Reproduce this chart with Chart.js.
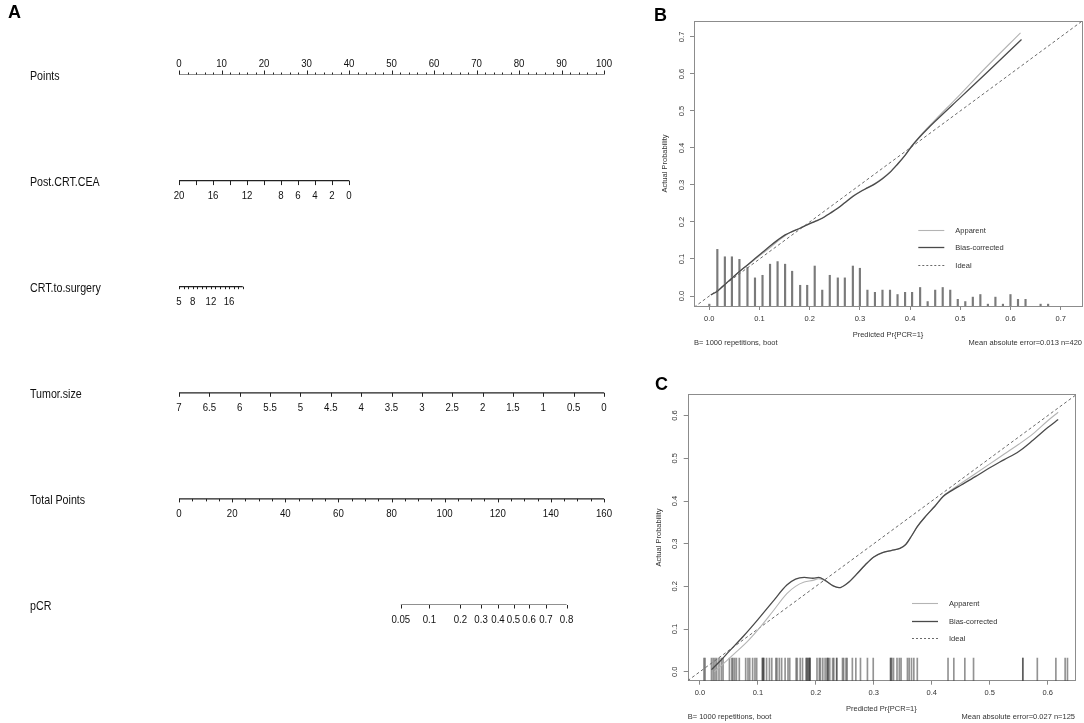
<!DOCTYPE html>
<html>
<head>
<meta charset="utf-8">
<script src="https://cdn.jsdelivr.net/npm/chart.js@4.4.1/dist/chart.umd.min.js"></script>
<style>
  html, body { margin: 0; padding: 0; background: #fff; }
  #wrap { position: relative; width: 1084px; height: 723px; overflow: hidden; }
  .box { position: absolute; }
  .tag { position: absolute; font: bold 18px "Liberation Sans", Arial, sans-serif; color: #000; }
</style>
</head>
<body>
<div id="wrap">
  <div class="box" style="left:0;top:0;width:650px;height:723px"><canvas id="nomo"></canvas></div>
  <div class="box" style="left:650px;top:0;width:434px;height:360px"><canvas id="calB"></canvas></div>
  <div class="box" style="left:650px;top:360px;width:434px;height:363px"><canvas id="calC"></canvas></div>
  <div class="tag" style="left:8px;top:2px">A</div>
  <div class="tag" style="left:654px;top:5px">B</div>
  <div class="tag" style="left:655px;top:374px">C</div>
</div>
<script>
// ---- nomogram (panel A) ----
const rowNames = ['Points', 'Post.CRT.CEA', 'CRT.to.surgery', 'Tumor.size', 'Total Points', 'pCR'];

const pointsMajor = [0, 10, 20, 30, 40, 50, 60, 70, 80, 90, 100];
const ceaTicks    = [20, 18, 16, 14, 12, 10, 8, 6, 4, 2, 0];
const ceaLabels   = [20, 16, 12, 8, 6, 4, 2, 0];
const crtTicks    = [5, 6, 7, 8, 9, 10, 11, 12, 13, 14, 15, 16, 17, 18, 19];
const crtLabels   = [5, 8, 12, 16];
const sizeTicks   = [7, 6.5, 6, 5.5, 5, 4.5, 4, 3.5, 3, 2.5, 2, 1.5, 1, 0.5, 0];
const totalMajor  = [0, 20, 40, 60, 80, 100, 120, 140, 160];
const pcrTicks    = [0.05, 0.1, 0.2, 0.3, 0.4, 0.5, 0.6, 0.7, 0.8];

// model scale (points per unit)
const ceaToPts   = v => (20 - v) * 2;
const crtToPts   = v => (v - 5) * 15 / 14;
const sizeToPts  = v => (7 - v) * 100 / 7;
const totalToPts = v => v * 100 / 160;
const LP_A = -8.74, LP_B = 0.0694;
const pcrToPts = p => totalToPts((Math.log(p / (1 - p)) - LP_A) / LP_B);

const stepList = (a, b, s) => { const r = []; for (let v = a; v <= b + 1e-9; v += s) r.push(+v.toFixed(4)); return r; };

const nomoRows = [
  { ticks: stepList(0, 100, 2),  labels: pointsMajor, major: pointsMajor, map: v => v,  up: true,  len: 4, minor: 2 },
  { ticks: ceaTicks,             labels: ceaLabels,   major: ceaTicks,    map: ceaToPts, up: false, len: 4.5, minor: 4.5 },
  { ticks: crtTicks,             labels: crtLabels,   major: crtTicks,    map: crtToPts, up: false, len: 2.5, minor: 2.5 },
  { ticks: sizeTicks,            labels: sizeTicks,   major: sizeTicks,   map: sizeToPts, up: false, len: 4, minor: 4 },
  { ticks: stepList(0, 160, 5),  labels: totalMajor,  major: totalMajor,  map: totalToPts, up: false, len: 3.5, minor: 2.5 },
  { ticks: pcrTicks,             labels: pcrTicks,    major: pcrTicks,    map: pcrToPts, up: false, len: 3.5, minor: 3.5 }
];

const FONT = '"Liberation Sans", Arial, Helvetica, sans-serif';
Chart.defaults.font.family = FONT;
Chart.defaults.color = '#222';
Chart.defaults.animation = false;

function squeezeText(c, txt, x, y, align, size, sx) {
  c.save();
  c.translate(x, y);
  c.scale(sx, 1);
  c.font = size + 'px ' + FONT;
  c.textAlign = align;
  c.textBaseline = 'middle';
  c.fillText(txt, 0, 0);
  c.restore();
}

const nomoAxes = {
  id: 'nomoAxes',
  afterDatasetsDraw(ch) {
    const c = ch.ctx, xs = ch.scales.x, ys = ch.scales.y;
    c.save();
    c.strokeStyle = '#222';
    c.fillStyle = '#111';
    c.lineWidth = 1;
    nomoRows.forEach((r, i) => {
      const py = ys.getPixelForValue(i);
      const dir = r.up ? -1 : 1;
      r.ticks.forEach(v => {
        const px = Math.round(xs.getPixelForValue(r.map(v))) + 0.5;
        const len = r.major.includes(v) ? r.len : r.minor;
        c.beginPath(); c.moveTo(px, py); c.lineTo(px, py + dir * len); c.stroke();
      });
      r.labels.forEach(v => {
        const px = xs.getPixelForValue(r.map(v));
        squeezeText(c, String(v), px, r.up ? py - 11 : py + 15, 'center', 11.5, 0.84);
      });
      squeezeText(c, rowNames[i], 30, py + 1.5, 'left', 13, 0.82);
    });
    c.restore();
  }
};

new Chart(document.getElementById('nomo'), {
  type: 'scatter',
  data: {
    datasets: nomoRows.map((r, i) => ({
      data: [{ x: r.map(r.ticks[0]), y: i }, { x: r.map(r.ticks[r.ticks.length - 1]), y: i }],
      showLine: true, borderColor: '#222', borderWidth: 1.2, pointRadius: 0
    }))
  },
  options: {
    responsive: true, maintainAspectRatio: false,
    layout: { padding: { left: 179, right: 46, top: 74.5, bottom: 118 } },
    plugins: { legend: { display: false }, tooltip: { enabled: false } },
    scales: {
      x: { type: 'linear', min: 0, max: 100, display: false },
      y: { type: 'linear', min: 0, max: 5, reverse: true, display: false }
    }
  },
  plugins: [nomoAxes]
});

// ---- calibration curves (panels B, C) ----
const calTicksB = [0, 0.1, 0.2, 0.3, 0.4, 0.5, 0.6, 0.7];
const calTicksC = [0, 0.1, 0.2, 0.3, 0.4, 0.5, 0.6];

const biasB = [
  [0.003, 0.003], [0.016, 0.013], [0.031, 0.031], [0.045, 0.048], [0.060, 0.066], [0.076, 0.084],
  [0.091, 0.101], [0.106, 0.118], [0.121, 0.135], [0.136, 0.151], [0.151, 0.165], [0.165, 0.174],
  [0.181, 0.183], [0.195, 0.192], [0.210, 0.201], [0.225, 0.210], [0.240, 0.223], [0.256, 0.237],
  [0.270, 0.252], [0.286, 0.269], [0.300, 0.281], [0.315, 0.292], [0.330, 0.303], [0.345, 0.317],
  [0.360, 0.334], [0.375, 0.356], [0.390, 0.380], [0.404, 0.406], [0.420, 0.431], [0.435, 0.452],
  [0.450, 0.472], [0.500, 0.536], [0.550, 0.600], [0.622, 0.693]
];
const apparentB = [
  [0.003, 0.004], [0.016, 0.014], [0.031, 0.032], [0.045, 0.049], [0.060, 0.066], [0.076, 0.083],
  [0.091, 0.099], [0.106, 0.115], [0.121, 0.131], [0.136, 0.148], [0.151, 0.163], [0.165, 0.174],
  [0.181, 0.184], [0.195, 0.193], [0.210, 0.202], [0.225, 0.211], [0.240, 0.224], [0.256, 0.238],
  [0.270, 0.253], [0.286, 0.270], [0.300, 0.282], [0.315, 0.293], [0.330, 0.304], [0.345, 0.318],
  [0.360, 0.335], [0.375, 0.357], [0.390, 0.381], [0.404, 0.407], [0.420, 0.433], [0.435, 0.455],
  [0.450, 0.476], [0.500, 0.545], [0.550, 0.616], [0.620, 0.711]
];
const spikeXB = [0.0, 0.016, 0.031, 0.045, 0.060, 0.076, 0.091, 0.106, 0.121, 0.136, 0.151, 0.165,
  0.181, 0.195, 0.210, 0.225, 0.240, 0.256, 0.270, 0.286, 0.300, 0.315, 0.330, 0.345, 0.360, 0.375,
  0.390, 0.404, 0.420, 0.435, 0.450, 0.465, 0.480, 0.495, 0.510, 0.525, 0.540, 0.555, 0.570, 0.585,
  0.600, 0.615, 0.630, 0.660, 0.675];
const spikeTopB = [-0.022, 0.126, 0.106, 0.106, 0.099, 0.077, 0.049, 0.056, 0.086, 0.093, 0.086, 0.067,
  0.029, 0.029, 0.081, 0.016, 0.056, 0.049, 0.049, 0.081, 0.075, 0.016, 0.010, 0.016, 0.016, 0.004,
  0.010, 0.010, 0.023, -0.015, 0.016, 0.023, 0.016, -0.009, -0.015, -0.003, 0.004, -0.022, -0.003, -0.022,
  0.004, -0.009, -0.009, -0.022, -0.022];

const biasC = [
  [0.020, 0.005], [0.035, 0.025], [0.050, 0.047], [0.075, 0.083], [0.100, 0.122], [0.125, 0.163],
  [0.150, 0.203], [0.165, 0.217], [0.180, 0.221], [0.195, 0.219], [0.205, 0.221], [0.215, 0.215],
  [0.230, 0.201], [0.240, 0.197], [0.255, 0.208], [0.270, 0.228], [0.285, 0.250], [0.300, 0.269],
  [0.315, 0.279], [0.330, 0.284], [0.345, 0.289], [0.355, 0.298], [0.365, 0.318], [0.375, 0.340],
  [0.390, 0.365], [0.405, 0.387], [0.420, 0.411], [0.435, 0.425], [0.450, 0.437], [0.475, 0.457],
  [0.500, 0.478], [0.525, 0.497], [0.550, 0.516], [0.575, 0.543], [0.600, 0.572], [0.618, 0.591]
];
const apparentC = [
  [0.025, 0.000], [0.040, 0.018], [0.060, 0.043], [0.080, 0.068], [0.100, 0.098], [0.125, 0.140],
  [0.150, 0.183], [0.165, 0.200], [0.180, 0.210], [0.195, 0.214], [0.205, 0.218], [0.215, 0.214],
  [0.230, 0.201], [0.240, 0.197], [0.255, 0.208], [0.270, 0.228], [0.285, 0.250], [0.300, 0.269],
  [0.315, 0.279], [0.330, 0.284], [0.345, 0.289], [0.355, 0.298], [0.365, 0.318], [0.375, 0.340],
  [0.390, 0.365], [0.405, 0.388], [0.420, 0.412], [0.435, 0.427], [0.450, 0.441], [0.475, 0.464],
  [0.500, 0.487], [0.525, 0.510], [0.550, 0.533], [0.575, 0.558], [0.600, 0.588], [0.618, 0.608]
];
const rugC = [0.007, 0.009, 0.020, 0.023, 0.026, 0.029, 0.033, 0.037, 0.040, 0.051, 0.055, 0.057,
  0.060, 0.063, 0.068, 0.079, 0.083, 0.086, 0.091, 0.095, 0.098, 0.108, 0.108, 0.110, 0.110, 0.115,
  0.120, 0.124, 0.131, 0.133, 0.137, 0.141, 0.147, 0.152, 0.155, 0.166, 0.168, 0.173, 0.177, 0.183,
  0.185, 0.185, 0.188, 0.188, 0.190, 0.190, 0.202, 0.206, 0.208, 0.212, 0.216, 0.219, 0.221, 0.221,
  0.224, 0.229, 0.231, 0.236, 0.236, 0.246, 0.248, 0.252, 0.254, 0.263, 0.269, 0.277, 0.289, 0.299,
  0.329, 0.329, 0.331, 0.334, 0.340, 0.344, 0.347, 0.358, 0.361, 0.365, 0.369, 0.375, 0.428, 0.438,
  0.457, 0.472, 0.557, 0.557, 0.582, 0.614, 0.630, 0.634];

const legendOrder = ['Apparent', 'Bias-corrected', 'Ideal'];

const calibExtras = {
  id: 'calibExtras',
  beforeDatasetsDraw(ch) {
    const a = ch.chartArea, c = ch.ctx;
    c.save();
    c.strokeStyle = '#8c8c8c';
    c.lineWidth = 1;
    c.strokeRect(Math.round(a.left) + 0.5, Math.round(a.top) + 0.5, Math.round(a.right - a.left), Math.round(a.bottom - a.top));
    c.restore();
  },
  afterDraw(ch, args, o) {
    const a = ch.chartArea, c = ch.ctx;
    c.save();
    c.font = '7.5px ' + FONT;
    c.fillStyle = '#333';
    c.textBaseline = 'middle';
    legendOrder.forEach((name, k) => {
      const ds = ch.data.datasets.find(d => d.label === name);
      const y = Math.round(a.top + 208.6 + k * 17.7) + 0.5;
      const x0 = a.left + 224.3;
      c.strokeStyle = ds.borderColor;
      c.lineWidth = ds.borderWidth;
      c.setLineDash(name === 'Ideal' ? [2, 2] : []);
      c.beginPath(); c.moveTo(x0, y); c.lineTo(x0 + 26, y); c.stroke();
      c.setLineDash([]);
      c.textAlign = 'left';
      c.fillText(name, x0 + 37, y);
    });
    c.textAlign = 'left';
    c.fillText(o.footLeft, a.left, o.footY);
    c.textAlign = 'right';
    c.fillText(o.footRight, a.right, o.footY);
    c.restore();
  }
};

function buildCalib(id, o) {
  const pts = arr => arr.map(p => ({ x: p[0], y: p[1] }));
  const marks = o.marks.x.map((x, i) => ({ x, y: [o.yMin, o.marks.top[i]] }));
  return new Chart(document.getElementById(id), {
    type: 'scatter',
    data: {
      datasets: [
        { label: 'Bias-corrected', type: 'line', data: pts(o.bias), borderColor: '#4a4a4a', borderWidth: 1.3,
          pointRadius: 0, tension: 0.4, cubicInterpolationMode: 'monotone' },
        { label: 'Apparent', type: 'line', data: pts(o.apparent), borderColor: '#b4b4b4', borderWidth: 1.1,
          pointRadius: 0, tension: 0.4, cubicInterpolationMode: 'monotone' },
        { label: 'Ideal', type: 'line', data: [{ x: o.xMin, y: o.xMin }, { x: 1, y: 1 }], borderColor: '#6a6a6a',
          borderWidth: 1, borderDash: [3, 2.5], pointRadius: 0 },
        { label: 'marks', type: 'bar', data: marks, backgroundColor: o.marks.color, borderWidth: 0,
          barThickness: o.marks.width, grouped: false }
      ]
    },
    options: {
      responsive: true, maintainAspectRatio: false,
      layout: { padding: { left: 0, right: o.padRight, top: o.padTop, bottom: 0 } },
      plugins: {
        legend: { display: false }, tooltip: { enabled: false },
        calibExtras: { footLeft: o.footLeft, footRight: o.footRight, footY: o.footY }
      },
      scales: {
        x: {
          type: 'linear', min: o.xMin, max: o.xMax, offset: false,
          afterBuildTicks: s => { s.ticks = o.ticks.map(v => ({ value: v })); },
          afterFit: s => { s.height = o.xH; },
          ticks: { callback: v => v.toFixed(1), font: { size: 7.5 }, color: '#333', padding: o.xTickPad, maxRotation: 0, autoSkip: false },
          grid: { drawOnChartArea: false, tickLength: 4, color: '#888', offset: false },
          border: { display: false },
          title: { display: true, text: 'Predicted Pr{PCR=1}', font: { size: 7.5 }, color: '#333', padding: { top: 0, bottom: o.xTitlePad } }
        },
        y: {
          type: 'linear', min: o.yMin, max: o.yMax, offset: false,
          afterBuildTicks: s => { s.ticks = o.ticks.map(v => ({ value: v })); },
          afterFit: s => { s.width = o.yW; },
          ticks: { callback: v => v.toFixed(1), font: { size: 7.5 }, color: '#333', padding: o.yTickPad,
            minRotation: 90, maxRotation: 90, crossAlign: 'center', autoSkip: false },
          grid: { drawOnChartArea: false, tickLength: 4, color: '#888', offset: false },
          border: { display: false },
          title: { display: true, text: 'Actual Probability', font: { size: 7.5 }, color: '#333', padding: { top: o.yTitlePad, bottom: 0 } }
        }
      }
    },
    plugins: [calibExtras]
  });
}

buildCalib('calB', {
  xMin: -0.0305, xMax: 0.7425, yMin: -0.027, yMax: 0.743, ticks: calTicksB,
  bias: biasB, apparent: apparentB,
  marks: { x: spikeXB, top: spikeTopB, color: '#7a7a7a', width: 1.5 },
  padTop: 21, padRight: 2, xH: 54, yW: 44,
  xTickPad: 4.8, xTitlePad: 20.5, yTickPad: 2.5, yTitlePad: 10.5,
  footLeft: 'B= 1000 repetitions, boot', footRight: 'Mean absolute error=0.013 n=420', footY: 342.7
});

buildCalib('calC', {
  xMin: -0.021, xMax: 0.647, yMin: -0.021, yMax: 0.650, ticks: calTicksC,
  bias: biasC, apparent: apparentC,
  marks: { x: rugC, top: rugC.map(() => 0.032), color: 'rgba(40,40,40,0.5)', width: 1 },
  padTop: 34.3, padRight: 9, xH: 42.3, yW: 37.7,
  xTickPad: 3.5, xTitlePad: 9.5, yTickPad: 3.5, yTitlePad: 4.8,
  footLeft: 'B= 1000 repetitions, boot', footRight: 'Mean absolute error=0.027 n=125', footY: 357.3
});
</script>
</body>
</html>
